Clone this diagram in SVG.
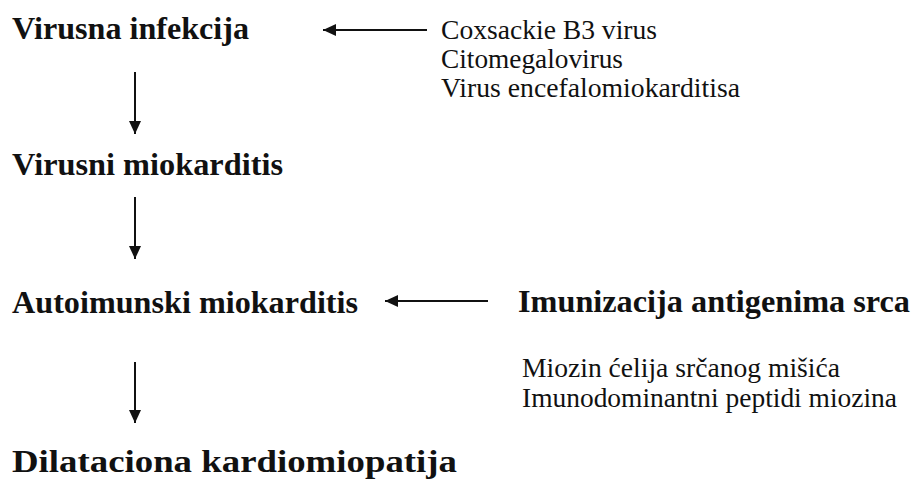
<svg xmlns="http://www.w3.org/2000/svg" width="912" height="481" viewBox="0 0 912 481">
<style>
.b{font-weight:bold;font-size:31px;fill:#111}
.r{font-size:27px;fill:#111}
.c{stroke:#111;stroke-width:2;fill:none}
</style>
<defs>
<marker id="ah" viewBox="0 0 13 12" refX="13" refY="6" markerWidth="13" markerHeight="12" markerUnits="userSpaceOnUse" orient="auto">
<path d="M0,0 L13,6 L0,12 Z" fill="#111"/>
</marker>
</defs>
<rect width="912" height="481" fill="#fff"/>
<g font-family="Liberation Serif, DejaVu Serif, Times New Roman, serif">
<g id="n1"><text class="b" x="12" y="39" textLength="237" lengthAdjust="spacingAndGlyphs">Virusna infekcija</text></g>
<g id="n2"><text class="b" x="12" y="175" textLength="271" lengthAdjust="spacingAndGlyphs">Virusni miokarditis</text></g>
<g id="n3"><text class="b" x="12" y="313" textLength="346" lengthAdjust="spacingAndGlyphs">Autoimunski miokarditis</text></g>
<g id="n4"><text class="b" x="12" y="472" textLength="445" lengthAdjust="spacingAndGlyphs">Dilataciona kardiomiopatija</text></g>
<g id="n5">
<text class="r" x="441" y="39" textLength="216" lengthAdjust="spacingAndGlyphs">Coxsackie B3 virus</text>
<text class="r" x="441" y="68" textLength="182" lengthAdjust="spacingAndGlyphs">Citomegalovirus</text>
<text class="r" x="441" y="97" textLength="299" lengthAdjust="spacingAndGlyphs">Virus encefalomiokarditisa</text>
</g>
<g id="n6"><text class="b" x="518" y="312" textLength="392" lengthAdjust="spacingAndGlyphs">Imunizacija antigenima srca</text></g>
<g id="n7">
<text class="r" x="522" y="377" textLength="318" lengthAdjust="spacingAndGlyphs">Miozin ćelija srčanog mišića</text>
<text class="r" x="522" y="407" textLength="375" lengthAdjust="spacingAndGlyphs">Imunodominantni peptidi miozina</text>
</g>
</g>
<g id="connectors">
<line class="c" x1="427" y1="30" x2="323" y2="30" marker-end="url(#ah)"/>
<line class="c" x1="135" y1="72" x2="135" y2="134" marker-end="url(#ah)"/>
<line class="c" x1="135" y1="197" x2="135" y2="259" marker-end="url(#ah)"/>
<line class="c" x1="488" y1="301" x2="385" y2="301" marker-end="url(#ah)"/>
<line class="c" x1="135" y1="362" x2="135" y2="423" marker-end="url(#ah)"/>
</g>
</svg>
